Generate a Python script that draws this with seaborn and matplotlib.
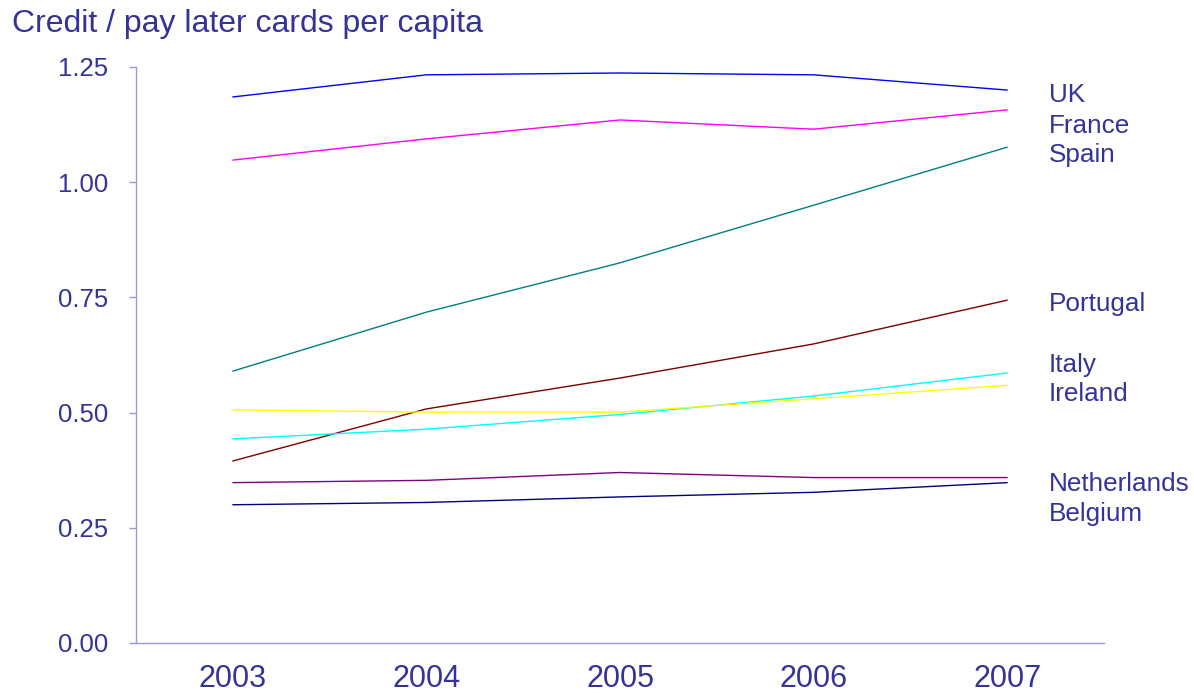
import matplotlib
matplotlib.use("Agg")
import matplotlib.pyplot as plt
import seaborn as sns
import pandas as pd
import numpy as np

years = ["2003", "2004", "2005", "2006", "2007"]
countries = ["UK", "France", "Spain", "Portugal", "Italy", "Ireland", "Netherlands", "Belgium"]
uk = [1.185, 1.233, 1.237, 1.233, 1.200]
france = [1.048, 1.094, 1.135, 1.115, 1.157]
spain = [0.590, 0.718, 0.825, 0.950, 1.076]
portugal = [0.395, 0.508, 0.575, 0.649, 0.744]
italy = [0.443, 0.464, 0.496, 0.536, 0.586]
ireland = [0.506, 0.501, 0.501, 0.530, 0.559]
netherlands = [0.348, 0.353, 0.370, 0.359, 0.359]
belgium = [0.300, 0.305, 0.317, 0.327, 0.348]
colors = ["#0000FF", "#FF00FF", "#008080", "#800000", "#00FFFF", "#FFFF00", "#800080", "#000080"]
label_y = [1.189, 1.123, 1.058, 0.735, 0.603, 0.540, 0.345, 0.279]

series = [uk, france, spain, portugal, italy, ireland, netherlands, belgium]
rows = []
for c, vals in zip(countries, series):
    for i, (y, v) in enumerate(zip(years, vals)):
        rows.append({"country": c, "year": y, "x": i, "value": v})
df = pd.DataFrame(rows)

sns.set_theme(style="white")
plt.rcParams["font.family"] = ["Liberation Sans", "DejaVu Sans"]

text_c = "#333399"
axis_c = "#9999DD"

fig = plt.figure(figsize=(11.94, 6.94), dpi=100)
ax = fig.add_axes([136/1194, 1-643/694, (1104-136)/1194, (643-67)/694])

sns.lineplot(data=df, x="x", y="value", hue="country", hue_order=countries,
             palette=dict(zip(countries, colors)), linewidth=1.0, legend=False,
             ax=ax, sort=False)

ax.set_xlim(-0.5, 4.5)
ax.set_ylim(0, 1.25)
ax.set_xlabel("")
ax.set_ylabel("")

ax.set_xticks(range(len(years)))
ax.set_xticklabels(years)
ax.set_xticks(np.arange(-0.5, 5.0, 1.0), minor=True)
ax.tick_params(axis="x", which="major", length=0, pad=15, labelsize=22, labelcolor=text_c)
ax.tick_params(axis="x", which="minor", length=5, width=1, color=axis_c, direction="out")

ax.set_yticks([0, 0.25, 0.5, 0.75, 1.0, 1.25])
ax.set_yticklabels(["0.00", "0.25", "0.50", "0.75", "1.00", "1.25"])
ax.tick_params(axis="y", which="major", length=5, width=1, color=axis_c, direction="out",
               pad=15, labelsize=18.5, labelcolor=text_c, left=True)

for s in ["top", "right"]:
    ax.spines[s].set_visible(False)
for s in ["left", "bottom"]:
    ax.spines[s].set_visible(True)
    ax.spines[s].set_color(axis_c)
    ax.spines[s].set_linewidth(1.0)

for c, ly in zip(countries, label_y):
    ax.text(4.216, ly, c, color=text_c, fontsize=18.8, va="center", ha="left", clip_on=False)

fig.text(12/1194, 1-24/694, "Credit / pay later cards per capita", color=text_c,
         fontsize=23, va="center", ha="left")

fig.savefig("out.png", dpi=100, facecolor="white")
